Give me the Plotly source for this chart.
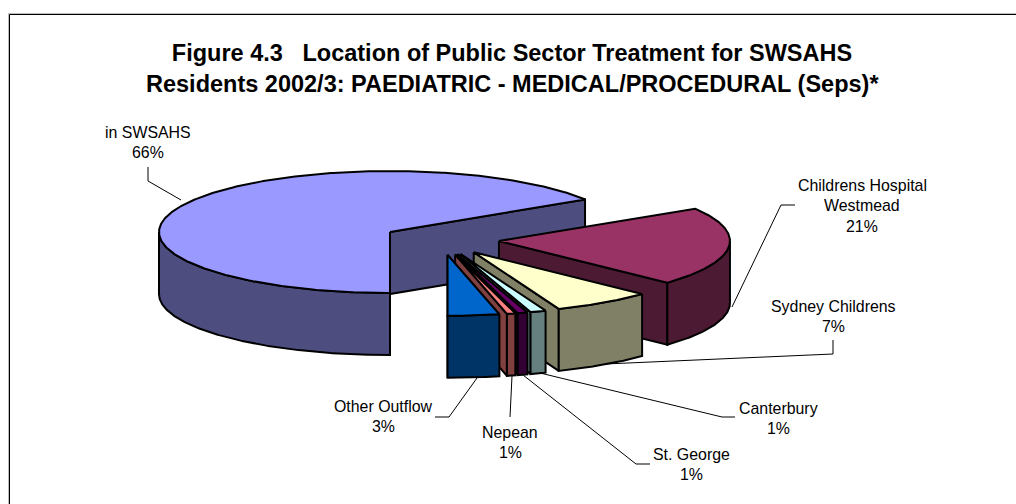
import numpy as np
import plotly.graph_objects as go

# ---- data ----
categories = ["in SWSAHS", "Childrens Hospital<br>Westmead", "Sydney Childrens",
              "Canterbury", "St. George", "Nepean", "Other Outflow"]
shares = [66.0, 21.0, 7.0, 1.1, 0.7, 0.6, 3.6]
shown_pct = [66, 21, 7, 1, 1, 1, 3]
top_colors = ["#9999FF", "#993366", "#FFFFCC", "#CCFFFF", "#660066", "#FF8080", "#0066CC"]
wall_colors = ["#4D4D80", "#4D1A33", "#808066", "#668080", "#330033", "#804040", "#003366"]
title_lines = ["Figure 4.3\u00a0\u00a0 Location of Public Sector Treatment for SWSAHS",
               "Residents 2002/3: PAEDIATRIC - MEDICAL/PROCEDURAL (Seps)*"]

# ---- pie projection ----
CX, CY = 441.0, 239.5
RX, RY = 231.0, 61.0
DEPTH = 62.0
EXPLODE = 0.252
FIRST_ANGLE = 180.0
W, H = 1016, 504


def arc(cx, cy, a0, a1):
    a = np.radians(np.linspace(a0, a1, max(2, int(abs(a1 - a0) * 2) + 2)))
    return cx + RX * np.sin(a), cy - RY * np.cos(a)


fig = go.Figure()


def poly(xs, ys, color):
    fig.add_trace(go.Scatter(x=list(xs), y=list(ys), mode="lines", fill="toself",
                             fillcolor=color, line=dict(color="#000000", width=2),
                             hoverinfo="skip", showlegend=False))


start = FIRST_ANGLE
for name, share, top, wall in zip(categories, shares, top_colors, wall_colors):
    end = start + share * 3.6
    mid = np.radians((start + end) / 2)
    ax = CX + EXPLODE * RX * np.sin(mid)
    ay = CY - EXPLODE * RY * np.cos(mid)
    # radial wall at the slice's closing edge
    ex, ey = arc(ax, ay, end, end)
    poly([ax, ex[0], ex[0], ax, ax], [ay, ey[0], ey[0] + DEPTH, ay + DEPTH, ay], wall)
    # outer rim: only the part between 90 and 270 degrees is in front
    lo, hi = max(start, 90.0), min(end, 270.0)
    if hi > lo:
        x0, y0 = arc(ax, ay, lo, hi)
        poly(np.r_[x0, x0[::-1], x0[0]], np.r_[y0, (y0 + DEPTH)[::-1], y0[0]], wall)
    # top face
    tx, ty = arc(ax, ay, start, end)
    poly(np.r_[ax, tx, ax], np.r_[ay, ty, ay], top)
    start = end % 360

# ---- leader lines (page pixels) ----
leaders = [
    [(148, 167), (148, 181), (181, 200)],
    [(795, 205), (781, 205), (732, 307)],
    [(833, 340), (833, 354), (605, 364)],
    [(540, 373), (722, 417), (735, 417)],
    [(523, 375), (636, 464), (650, 464)],
    [(512, 376), (510, 417)],
    [(477, 378), (449, 417), (435, 417)],
]
for pts in leaders:
    fig.add_trace(go.Scatter(x=[p[0] for p in pts], y=[p[1] for p in pts], mode="lines",
                             line=dict(color="#000000", width=1), hoverinfo="skip",
                             showlegend=False))

# ---- labels ----
label_pos = [(148, 132), (862, 185), (833, 306), (778, 408), (691, 454), (510, 432), (383, 406)]
LINE = 20.5
ann = []
for name, pct, (lx, ly) in zip(categories, shown_pct, label_pos):
    lines = name.split("<br>") + [f"{pct}%"]
    for i, t in enumerate(lines):
        ann.append(dict(x=lx, y=ly + i * LINE, text=t, xref="x", yref="y", showarrow=False,
                        xanchor="center", yanchor="middle",
                        font=dict(family="Liberation Sans", size=15.9, color="#000000")))
ann.append(dict(x=512, y=84, text=f"<b>{title_lines[1]}</b>", xref="x", yref="y", showarrow=False,
                xanchor="center", yanchor="middle",
                font=dict(family="Liberation Sans", size=23.5, color="#000000")))

shapes = [
    dict(type="line", xref="x", yref="y", x0=8.5, x1=W, y0=13.5, y1=13.5, line=dict(color="#BBBBBB", width=1)),
    dict(type="line", xref="x", yref="y", x0=8.5, x1=8.5, y0=13.5, y1=H, line=dict(color="#BBBBBB", width=1)),
    dict(type="line", xref="x", yref="y", x0=9.5, x1=W, y0=14.5, y1=14.5, line=dict(color="#000000", width=1)),
    dict(type="line", xref="x", yref="y", x0=9.5, x1=9.5, y0=14.5, y1=H, line=dict(color="#000000", width=1)),
]

fig.update_layout(
    width=W, height=H, margin=dict(l=0, r=0, t=0, b=0),
    paper_bgcolor="#FFFFFF", plot_bgcolor="#FFFFFF", showlegend=False,
    title=dict(text=f"<b>{title_lines[0]}</b>", x=512 / W, xanchor="center", y=1 - 53 / H, yanchor="middle",
               font=dict(family="Liberation Sans", size=23.5, color="#000000")),
    xaxis=dict(range=[0, W], visible=False, fixedrange=True),
    yaxis=dict(range=[H, 0], visible=False, fixedrange=True),
    annotations=ann, shapes=shapes,
)
fig.write_html("out.html", config=dict(displayModeBar=False),
               post_script="document.body.style.margin='0';document.body.style.overflow='hidden';")
